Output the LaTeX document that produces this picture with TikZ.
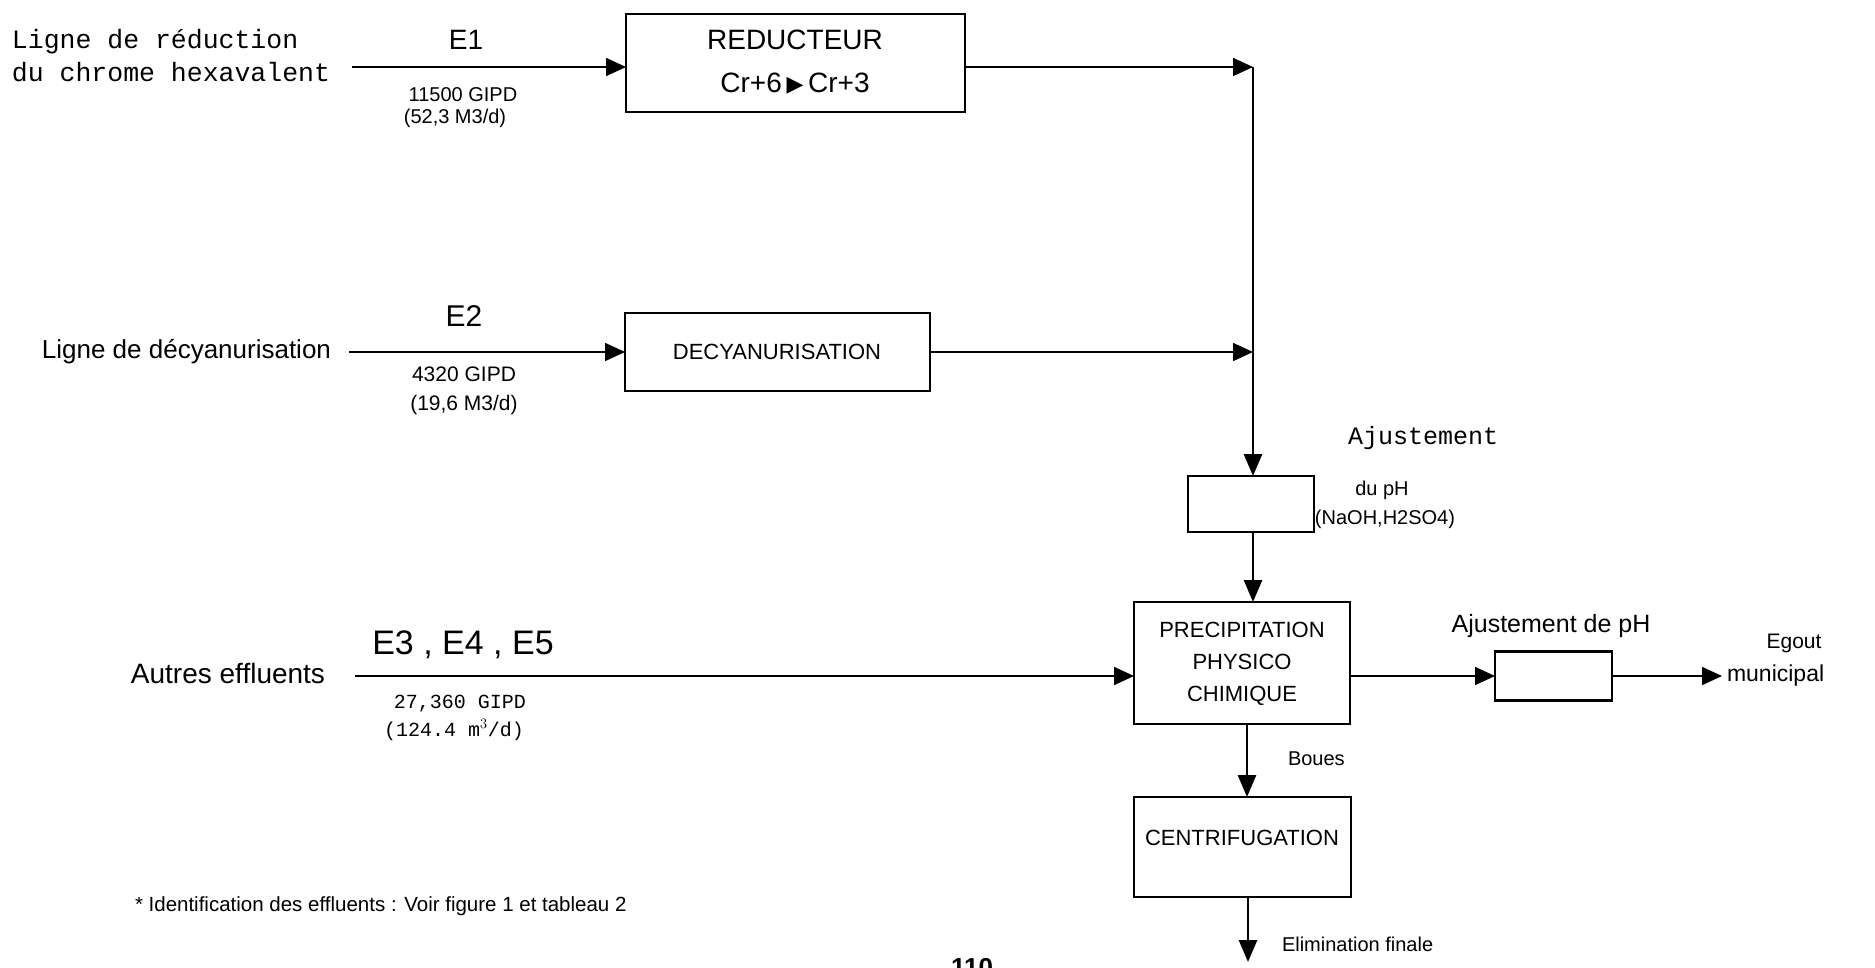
\documentclass[tikz,border=0pt]{standalone}
\usepackage{fontspec}
\usetikzlibrary{arrows.meta}
\newfontfamily\plot{Liberation Sans}
\newfontfamily\typew{Liberation Mono}
\newfontfamily\sym{DejaVu Sans}
\newcommand{\fs}[1]{\fontsize{#1}{#1}\selectfont}
\tikzset{
  x=1pt, y=-1pt,
  every node/.style={inner sep=0pt, outer sep=0pt, font=\plot},
  procbox/.style={draw, line width=2.2pt, inner sep=0pt},
  flow/.style={line width=1.7pt, -{Triangle[length=20pt,width=18pt]}},
  mainflow/.style={line width=2.8pt, -{Triangle[length=22pt,width=18pt]}},
  label/.style={font=\plot\fs{#1}},
  mono/.style={font=\typew\fs{#1}},
}
\begin{document}
\begin{tikzpicture}
\useasboundingbox (0,0) rectangle (1875,967);

% process boxes
\node[procbox, minimum width=339pt, minimum height=98pt] (red) at (795.5,63) {};
\node[label=28] at (795,40) {REDUCTEUR};
\node[label=28] at (795,84) {Cr+6\,{\sym\fs{22}\raisebox{1pt}{▶}}\,Cr+3};

\node[procbox, minimum width=305pt, minimum height=78pt] (dec) at (777.5,352) {};
\node[label=22] at (777,352) {DECYANURISATION};

\node[procbox, minimum width=126pt, minimum height=56pt] (ph) at (1251,504) {};

\node[procbox, minimum width=216pt, minimum height=122pt] (prec) at (1242,663) {};
\node[label=22] at (1242,630) {PRECIPITATION};
\node[label=22] at (1242,662) {PHYSICO};
\node[label=22] at (1242,696) {CHIMIQUE};

\node[procbox, minimum width=117pt, minimum height=49pt] (ph2) at (1553.5,676) {};

\node[procbox, minimum width=217pt, minimum height=100pt] (cen) at (1242.5,847) {};
\node[label=22] at (1242,838) {CENTRIFUGATION};

% junction points and free ends
\coordinate (j1) at (1253,67);
\coordinate (j2) at (1253,352);
\coordinate (s1) at (352,67);
\coordinate (s2) at (349,352);
\coordinate (s3) at (355,676);
\coordinate (out) at (1722,676);
\coordinate (fin) at (1248,962);

% connectors
\draw[flow] (s1) -- (red.west |- s1);
\draw[flow] (red.east |- j1) -- (j1);
\draw[flow] (s2) -- (dec.west);
\draw[flow] (dec.east) -- (j2);
\draw[mainflow] (j1) -- (ph.north -| j1);
\draw[mainflow] (ph.south -| j1) -- (prec.north -| j1);
\draw[flow] (s3) -- (prec.west |- s3);
\draw[flow] (prec.east |- s3) -- (ph2.west);
\draw[flow] (ph2.east) -- (out);
\draw[mainflow] (prec.south -| 1247,0) -- (cen.north -| 1247,0);
\draw[mainflow] (cen.south -| fin) -- (fin);

% input lines
\node[mono=26.5, anchor=west] at (12,42) {Ligne de réduction};
\node[mono=26.5, anchor=west] at (12,72) {du chrome hexavalent};
\node[label=28] at (466,40) {E1};
\node[label=20] at (463,95) {11500 GIPD};
\node[label=20] at (455,118) {(52,3 M3/d)};

\node[label=26, anchor=east] at (331,352) {Ligne de décyanurisation};
\node[label=30] at (464,316) {E2};
\node[label=21] at (464,374) {4320 GIPD};
\node[label=21] at (464,405) {(19,6 M3/d)};

\node[label=28, anchor=east] at (325,673) {Autres effluents};
\node[label=34] at (463,645) {E3 , E4 , E5};
\node[mono=20] at (460,704) {27,360 GIPD};
\node[mono=20] at (454,730) {(124.4 m$^{3}$/d)};

% pH adjustment notes
\node[mono=25] at (1423,438) {Ajustement};
\node[label=20] at (1382,490) {du pH};
\node[label=20] at (1385,519) {(NaOH,H2SO4)};
\node[label=25] at (1551,626) {Ajustement de pH};
\node[label=21] at (1794,643) {Egout};
\node[label=23, anchor=west] at (1727,676) {municipal};
\node[label=20, anchor=west] at (1288,759) {Boues};
\node[label=20, anchor=west] at (1282,944) {Elimination finale};

% footnote and page number
\node[label=20.5, anchor=west] at (135,906) {* Identification des effluents : Voir figure 1 et tableau 2};
\node[font=\plot\bfseries\fs{26}] at (972,968) {110};
\end{tikzpicture}
\end{document}
